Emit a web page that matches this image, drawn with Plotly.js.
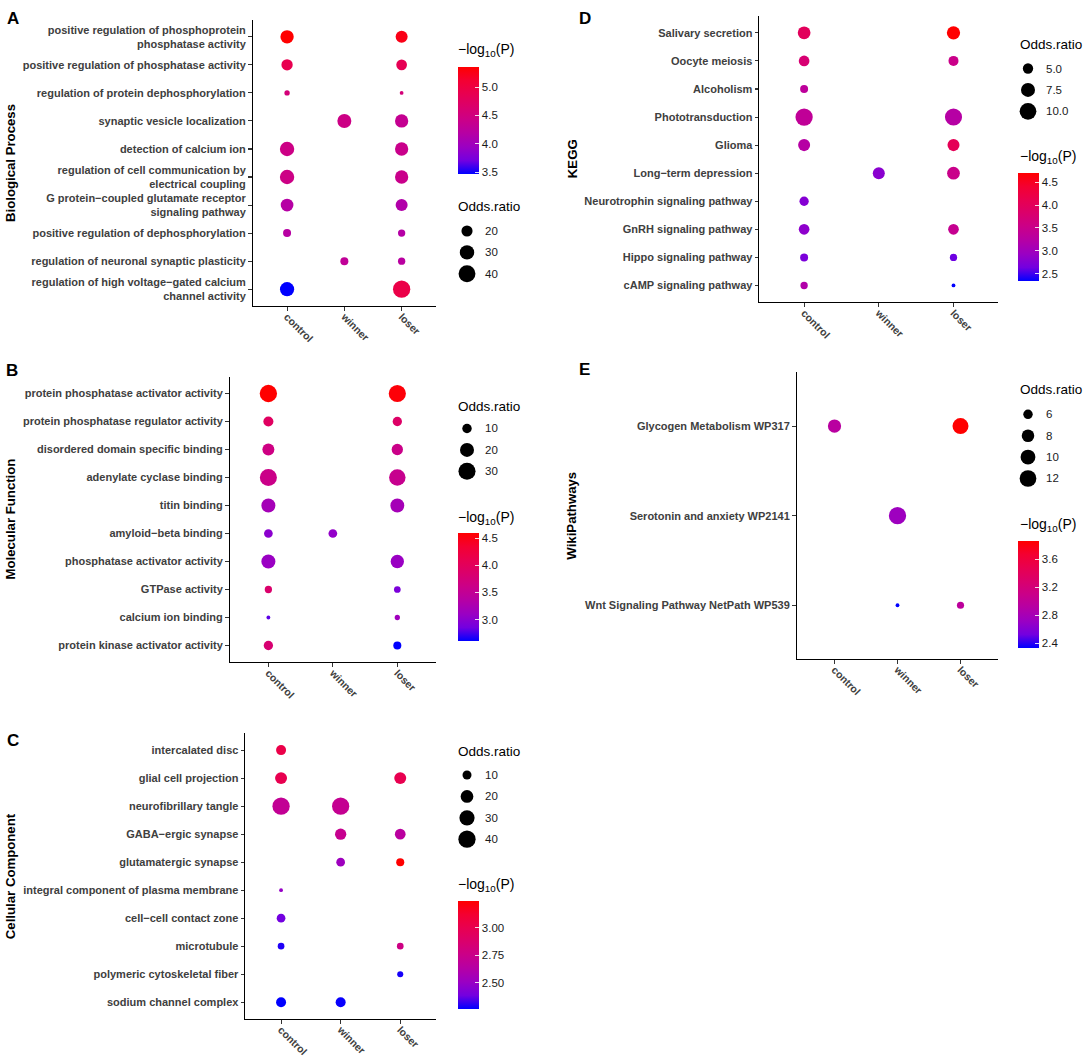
<!DOCTYPE html>
<html><head><meta charset="utf-8">
<script src="https://cdn.plot.ly/plotly-3.0.1.min.js"></script>
<style>html,body{margin:0;padding:0;background:#fff;}#chart{width:1084px;height:1058px;}</style>
</head><body><div id="chart"></div>
<script>
// ---------------- DATA ----------------
const GROUPS = ['control', 'winner', 'loser'];

// A: Biological Process
const A_TERMS = ['positive regulation of phosphoprotein<br>phosphatase activity', 'positive regulation of phosphatase activity', 'regulation of protein dephosphorylation', 'synaptic vesicle localization', 'detection of calcium ion', 'regulation of cell communication by<br>electrical coupling', 'G protein\u2212coupled glutamate receptor<br>signaling pathway', 'positive regulation of dephosphorylation', 'regulation of neuronal synaptic plasticity', 'regulation of high voltage\u2212gated calcium<br>channel activity'];
const A_OR_CONTROL = [26.4, 20.6, 11.4, null, 30.0, 30.0, 24.5, 14.0, null, 29.5];
const A_OR_WINNER  = [null, null, null, 28.7, null, null, null, null, 14.0, null];
const A_OR_LOSER   = [22.4, 19.1, 11.0, 26.4, 26.4, 26.4, 22.4, 13.1, 13.1, 42.0];
const A_P_CONTROL  = [5.36, 4.89, 4.55, null, 4.45, 4.45, 4.19, 4.20, null, 3.47];
const A_P_WINNER   = [null, null, null, 4.45, null, null, null, null, 4.30, null];
const A_P_LOSER    = [5.25, 4.85, 4.55, 4.35, 4.40, 4.40, 4.15, 4.18, 4.22, 4.95];
const A_SIZE_BREAKS = [20, 30, 40];
const A_COLOR_TICKS = [3.5, 4.0, 4.5, 5.0];

// B: Molecular Function
const B_TERMS = ['protein phosphatase activator activity', 'protein phosphatase regulator activity', 'disordered domain specific binding', 'adenylate cyclase binding', 'titin binding', 'amyloid\u2212beta binding', 'phosphatase activator activity', 'GTPase activity', 'calcium ion binding', 'protein kinase activator activity'];
const B_OR_CONTROL = [31.0, 10.9, 14.9, 30.0, 20.1, 8.9, 20.1, 7.2, 5.5, 9.7];
const B_OR_WINNER  = [null, null, null, null, null, 8.9, null, null, null, null];
const B_OR_LOSER   = [30.5, 9.7, 13.4, 28.0, 19.8, null, 18.1, 6.7, 5.8, 8.0];
const B_P_CONTROL  = [4.59, 3.95, 3.65, 3.60, 3.20, 3.00, 3.10, 3.85, 2.80, 3.80];
const B_P_WINNER   = [null, null, null, null, null, 3.05, null, null, null, null];
const B_P_LOSER    = [4.55, 3.90, 3.60, 3.55, 3.20, null, 3.10, 2.90, 3.15, 2.60];
const B_SIZE_BREAKS = [10, 20, 30];
const B_COLOR_TICKS = [3.0, 3.5, 4.0, 4.5];

// C: Cellular Component
const C_TERMS = ['intercalated disc', 'glial cell projection', 'neurofibrillary tangle', 'GABA\u2212ergic synapse', 'glutamatergic synapse', 'integral component of plasma membrane', 'cell\u2212cell contact zone', 'microtubule', 'polymeric cytoskeletal fiber', 'sodium channel complex'];
const C_OR_CONTROL = [12.2, 17.8, 40.3, null, null, 4.7, 9.4, 6.3, null, 12.2];
const C_OR_WINNER  = [null, null, 40.0, 15.7, 9.4, null, null, null, null, 12.2];
const C_OR_LOSER   = [null, 17.8, null, 14.0, 8.2, null, null, 6.3, 5.7, null];
const C_P_CONTROL  = [3.03, 3.00, 2.71, null, null, 2.50, 2.39, 2.30, null, 2.267];
const C_P_WINNER   = [null, null, 2.72, 2.73, 2.53, null, null, null, null, 2.275];
const C_P_LOSER    = [null, 3.00, null, 2.66, 3.245, null, null, 2.78, 2.29, null];
const C_SIZE_BREAKS = [10, 20, 30, 40];
const C_COLOR_TICKS = [2.50, 2.75, 3.00];

// D: KEGG
const D_TERMS = ['Salivary secretion', 'Oocyte meiosis', 'Alcoholism', 'Phototransduction', 'Glioma', 'Long\u2212term depression', 'Neurotrophin signaling pathway', 'GnRH signaling pathway', 'Hippo signaling pathway', 'cAMP signaling pathway'];
const D_OR_CONTROL = [6.5, 5.2, 4.0, 10.6, 6.0, null, 4.5, 5.2, 4.0, 3.8];
const D_OR_WINNER  = [null, null, null, null, null, 6.0, null, null, null, null];
const D_OR_LOSER   = [6.9, 4.85, null, 10.4, 6.0, 6.5, null, 5.2, 3.8, 3.3];
const D_P_CONTROL  = [3.99, 3.75, 3.33, 3.37, 3.23, null, 2.76, 2.83, 2.69, 3.18];
const D_P_WINNER   = [null, null, null, null, null, 2.80, null, null, null, null];
const D_P_LOSER    = [4.70, 3.52, null, 3.23, 4.04, 3.50, null, 3.44, 2.61, 2.33];
const D_SIZE_BREAKS = [5.0, 7.5, 10.0];
const D_COLOR_TICKS = [2.5, 3.0, 3.5, 4.0, 4.5];

// E: WikiPathways
const E_TERMS = ['Glycogen Metabolism WP317', 'Serotonin and anxiety WP2141', 'Wnt Signaling Pathway NetPath WP539'];
const E_OR_CONTROL = [8.6, null, null];
const E_OR_WINNER  = [null, 12.7, 4.6];
const E_OR_LOSER   = [11.2, null, 5.1];
const E_P_CONTROL  = [2.94, null, null];
const E_P_WINNER   = [null, 2.74, 2.33];
const E_P_LOSER    = [3.857, null, 2.97];
const E_SIZE_BREAKS = [6, 8, 10, 12];
const E_COLOR_TICKS = [2.4, 2.8, 3.2, 3.6];

// ---------------- LAYOUT / STYLE ----------------
const W = 1084, H = 1058;
const FONT = 'Liberation Sans, Arial, Helvetica, sans-serif';
const px = x => x / W;
const py = y => 1 - y / H;
const DMIN = 3.8, DMAX = 17.3;
const COLORSCALE = [[0, 'rgb(0,0,255)'], [0.125, 'rgb(115,0,224)'], [0.25, 'rgb(154,0,195)'], [0.375, 'rgb(181,0,165)'], [0.5, 'rgb(202,0,137)'], [0.625, 'rgb(218,0,108)'], [0.75, 'rgb(232,0,80)'], [0.875, 'rgb(244,0,49)'], [1, 'rgb(255,0,0)']];

const PANELS = [
  {id: 'A', title: 'Biological Process', terms: A_TERMS, or: [A_OR_CONTROL, A_OR_WINNER, A_OR_LOSER], p: [A_P_CONTROL, A_P_WINNER, A_P_LOSER], sizeBreaks: A_SIZE_BREAKS, colorTicks: A_COLOR_TICKS, tickFmt: 1, keyFmt: 0,
   box: [252.7, 436, 20, 306], letter: [5, 7], ytitleX: 10, cb: [457.8, 66.7, 174], cbTitleY: 50, orTitleY: 207, keyY: 231, keyX: 467, legLeft: 456},
  {id: 'B', title: 'Molecular Function', terms: B_TERMS, or: [B_OR_CONTROL, B_OR_WINNER, B_OR_LOSER], p: [B_P_CONTROL, B_P_WINNER, B_P_LOSER], sizeBreaks: B_SIZE_BREAKS, colorTicks: B_COLOR_TICKS, tickFmt: 1, keyFmt: 0,
   box: [229.7, 436, 376.7, 662.3], letter: [4, 359], ytitleX: 10, cb: [457.8, 533.3, 641], cbTitleY: 518, orTitleY: 406, keyY: 428.5, keyX: 467, legLeft: 456},
  {id: 'C', title: 'Cellular Component', terms: C_TERMS, or: [C_OR_CONTROL, C_OR_WINNER, C_OR_LOSER], p: [C_P_CONTROL, C_P_WINNER, C_P_LOSER], sizeBreaks: C_SIZE_BREAKS, colorTicks: C_COLOR_TICKS, tickFmt: 2, keyFmt: 0,
   box: [245.3, 436, 733.3, 1019], letter: [5, 729], ytitleX: 10, cb: [457.8, 900.7, 1008.3], cbTitleY: 885, orTitleY: 751, keyY: 775, keyX: 467, legLeft: 456},
  {id: 'D', title: 'KEGG', terms: D_TERMS, or: [D_OR_CONTROL, D_OR_WINNER, D_OR_LOSER], p: [D_P_CONTROL, D_P_WINNER, D_P_LOSER], sizeBreaks: D_SIZE_BREAKS, colorTicks: D_COLOR_TICKS, tickFmt: 1, keyFmt: 1,
   box: [759.3, 998.3, 16, 302.3], letter: [577, 7], ytitleX: 572, cb: [1018.3, 173.3, 281], cbTitleY: 156.7, orTitleY: 44.3, keyY: 68.5, keyX: 1028, legLeft: 1018},
  {id: 'E', title: 'WikiPathways', terms: E_TERMS, or: [E_OR_CONTROL, E_OR_WINNER, E_OR_LOSER], p: [E_P_CONTROL, E_P_WINNER, E_P_LOSER], sizeBreaks: E_SIZE_BREAKS, colorTicks: E_COLOR_TICKS, tickFmt: 1, keyFmt: 0,
   box: [796.7, 998.3, 372.3, 659], letter: [577, 358], ytitleX: 572, cb: [1018.3, 541, 648.3], cbTitleY: 525, orTitleY: 390, keyY: 414.3, keyX: 1028, legLeft: 1018}
];
const KEY_STEP = 21.4;

const traces = [];
const annotations = [];
const layout = {
  width: W, height: H, margin: {l: 0, r: 0, t: 0, b: 0},
  paper_bgcolor: '#fff', plot_bgcolor: 'rgba(0,0,0,0)',
  font: {family: FONT, color: '#000'},
  showlegend: false, hovermode: false
};

const keyX = [], keyY = [], keyS = [];

PANELS.forEach((P, k) => {
  const i = k + 1;
  const xa = 'xaxis' + (i === 1 ? '' : i), ya = 'yaxis' + (i === 1 ? '' : i);
  const xr = 'x' + (i === 1 ? '' : i), yr = 'y' + (i === 1 ? '' : i);
  const ca = 'coloraxis' + (i === 1 ? '' : i);
  const [x0, x1, y0, y1] = P.box;
  const n = P.terms.length;

  const xs = [], ys = [], ors = [], ps = [];
  GROUPS.forEach((g, gi) => {
    P.terms.forEach((t, ti) => {
      const o = P.or[gi][ti];
      if (o !== null && o !== undefined) {
        xs.push(g); ys.push(t); ors.push(o); ps.push(P.p[gi][ti]);
      }
    });
  });
  const omin = Math.min(...ors), omax = Math.max(...ors);
  const sizeOf = v => DMIN + (DMAX - DMIN) * Math.sqrt(Math.max(0, Math.min(1, (v - omin) / (omax - omin))));
  const pmin = Math.min(...ps), pmax = Math.max(...ps);

  traces.push({
    type: 'scatter', mode: 'markers', x: xs, y: ys, xaxis: xr, yaxis: yr, opacity: 1,
    marker: {size: ors.map(sizeOf), color: ps, coloraxis: ca, line: {width: 0}, opacity: 1},
    hoverinfo: 'skip', cliponaxis: false
  });

  layout[xa] = {
    domain: [px(x0), px(x1)], anchor: yr, type: 'category', categoryorder: 'array', categoryarray: GROUPS,
    range: [-0.6, 2.6], showline: true, linecolor: '#000', linewidth: 1.1, mirror: false,
    ticks: 'outside', ticklen: 3.6, tickwidth: 1.1, tickcolor: '#333', tickangle: 45, ticklabelstandoff: -4,
    tickfont: {family: FONT, size: 10.5, color: '#404040', weight: 'bold'},
    showgrid: false, zeroline: false, fixedrange: true
  };
  layout[ya] = {
    domain: [py(y1), py(y0)], anchor: xr, type: 'category', categoryorder: 'array', categoryarray: P.terms,
    range: [n - 0.4, -0.6], showline: true, linecolor: '#000', linewidth: 1.1, mirror: false,
    ticks: 'outside', ticklen: 3.6, tickwidth: 1.1, tickcolor: '#333',
    tickfont: {family: FONT, size: 11, color: '#404040', weight: 'bold'},
    showgrid: false, zeroline: false, fixedrange: true
  };

  const [cbx, cbt, cbb] = P.cb;
  layout[ca] = {
    cmin: pmin, cmax: pmax, colorscale: COLORSCALE, showscale: true,
    colorbar: {
      x: px(cbx), xanchor: 'left', xref: 'paper', y: py(cbt), yanchor: 'top', yref: 'paper',
      len: cbb - cbt, lenmode: 'pixels', thickness: 21, thicknessmode: 'pixels',
      outlinewidth: 0, borderwidth: 0, xpad: 0, ypad: 0,
      tickmode: 'array', tickvals: P.colorTicks, ticktext: P.colorTicks.map(v => v.toFixed(P.tickFmt)),
      ticks: 'inside', ticklen: 4, tickwidth: 1, tickcolor: 'rgba(255,255,255,0.85)',
      tickfont: {family: FONT, size: 11.5, color: '#1a1a1a'}
    }
  };

  annotations.push({text: P.id, x: px(P.letter[0]), y: py(P.letter[1]), xref: 'paper', yref: 'paper', xanchor: 'left', yanchor: 'top', showarrow: false, font: {family: FONT, size: 17, color: '#000', weight: 'bold'}});
  annotations.push({text: P.title, x: px(P.ytitleX), y: py((y0 + y1) / 2), xref: 'paper', yref: 'paper', xanchor: 'center', yanchor: 'middle', textangle: -90, showarrow: false, font: {family: FONT, size: 13.2, color: '#000', weight: 'bold'}});
  annotations.push({text: '\u2212log<sub>10</sub>(P)', x: px(P.legLeft), y: py(P.cbTitleY), xref: 'paper', yref: 'paper', xanchor: 'left', yanchor: 'middle', showarrow: false, font: {family: FONT, size: 14, color: '#000'}});
  annotations.push({text: 'Odds.ratio', x: px(P.legLeft), y: py(P.orTitleY), xref: 'paper', yref: 'paper', xanchor: 'left', yanchor: 'middle', showarrow: false, font: {family: FONT, size: 13.5, color: '#000'}});
  P.sizeBreaks.forEach((b, bi) => {
    const yk = P.keyY + bi * KEY_STEP;
    keyX.push(P.keyX); keyY.push(yk); keyS.push(sizeOf(b));
    annotations.push({text: P.keyFmt ? b.toFixed(P.keyFmt) : String(b), x: px(P.keyX + 16), y: py(yk), xref: 'paper', yref: 'paper', xanchor: 'left', yanchor: 'middle', showarrow: false, font: {family: FONT, size: 11.5, color: '#1a1a1a'}});
  });
});

layout.xaxis6 = {domain: [0, 1], range: [0, W], visible: false, fixedrange: true, anchor: 'y6'};
layout.yaxis6 = {domain: [0, 1], range: [H, 0], visible: false, fixedrange: true, anchor: 'x6'};
traces.push({type: 'scatter', mode: 'markers', x: keyX, y: keyY, xaxis: 'x6', yaxis: 'y6', opacity: 1, marker: {size: keyS, color: '#000', opacity: 1, line: {width: 0}}, hoverinfo: 'skip', cliponaxis: false});

layout.annotations = annotations;
Plotly.newPlot('chart', traces, layout, {staticPlot: true, displayModeBar: false});
</script></body></html>
